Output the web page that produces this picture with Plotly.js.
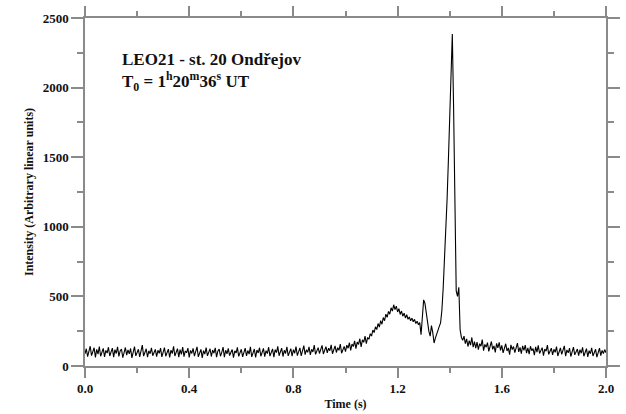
<!DOCTYPE html>
<html>
<head>
<meta charset="utf-8">
<script src="https://cdn.plot.ly/plotly-3.0.1.min.js"></script>
<style>
  html, body { margin: 0; padding: 0; background: #fff; }
  #chart { width: 626px; height: 414px; font-family: 'Liberation Serif', serif; }
</style>
</head>
<body>
<div id="chart"></div>
<script>
// Light curve sampling
const T_START = 0.0;
const T_STEP = 0.005;

// Intensity samples (arbitrary linear units), one per time step, 0.1 s per row
const intensity = [
  88,124,67,110,142,75,98,131,62,119,85,140,70,104,127,66,112,93,135,72,
  101,128,64,117,90,138,69,108,122,60,96,133,78,115,87,126,58,104,140,73,
  95,120,66,111,150,71,99,124,63,109,88,131,74,102,119,68,113,91,128,65,
  106,132,70,97,121,61,114,89,142,72,100,125,64,118,84,136,67,108,95,129,
  62,112,90,127,71,104,138,66,96,119,58,110,86,133,73,101,124,68,115,92,
  130,64,107,121,70,98,136,63,113,88,127,75,102,118,60,109,93,134,69,105,
  120,66,97,129,72,111,86,137,65,103,122,61,115,94,131,70,99,126,67,110,
  89,135,71,106,123,64,117,96,141,74,100,128,68,113,90,138,73,108,125,70,
  118,92,140,75,111,130,72,105,146,82,116,98,137,79,120,101,150,84,113,132,
  90,125,148,86,118,139,95,128,110,152,88,122,145,97,131,113,158,92,127,141,
  104,150,128,167,112,158,140,180,125,172,155,196,138,188,170,214,160,205,192,232,
  215,258,240,282,262,305,280,326,300,348,325,372,350,392,372,418,395,440,405,430,
  388,412,370,395,358,380,345,368,336,352,325,344,318,335,305,322,296,312,225,360,
  475,450,380,300,250,215,290,240,165,200,235,260,285,310,400,560,760,980,1200,1480,
  1780,2080,2385,1850,1200,540,500,565,260,205,185,215,160,195,140,182,150,205,135,175,
  128,172,118,160,142,190,110,155,135,168,105,150,176,120,145,98,162,130,170,112,
  148,95,138,160,108,130,82,152,118,140,96,128,165,102,134,88,145,112,150,92,
  130,85,142,110,125,78,138,100,148,90,118,132,75,122,106,150,84,115,128,80,
  120,98,140,72,112,130,84,108,145,70,116,95,128,68,110,136,80,104,122,74,
  118,92,134,70,106,125,66,110,88,130,72,103,120,64,98,128,75,112,90,118,
  95
];

// Axis tick values and labels
const xTicks = [0.0, 0.4, 0.8, 1.2, 1.6, 2.0];
const xTickLabels = ['0.0', '0.4', '0.8', '1.2', '1.6', '2.0'];
const yTicks = [0, 500, 1000, 1500, 2000, 2500];
const yTickLabels = ['0', '500', '1000', '1500', '2000', '2500'];

const timeS = intensity.map((_, i) => +(T_START + i * T_STEP).toFixed(3));

const serif = 'Liberation Serif';
const axisGray = '#8a8a8a';

const trace = {
  x: timeS,
  y: intensity,
  type: 'scatter',
  mode: 'lines',
  line: { color: '#000', width: 1.1 },
  hoverinfo: 'skip'
};

const commonAxis = {
  showline: true,
  linecolor: axisGray,
  linewidth: 1.5,
  mirror: 'allticks',
  ticks: 'outside',
  tickcolor: axisGray,
  tickwidth: 1.5,
  ticklen: 12,
  showgrid: false,
  zeroline: false,
  tickmode: 'array',
  tickfont: { family: serif, size: 13, color: '#111', weight: 'bold' }
};

const layout = {
  width: 626,
  height: 414,
  margin: { l: 85, r: 20, t: 18, b: 48 },
  paper_bgcolor: '#fff',
  plot_bgcolor: '#fff',
  showlegend: false,
  font: { family: serif, color: '#111' },
  xaxis: Object.assign({}, commonAxis, {
    range: [0, 2.0],
    tickvals: xTicks,
    ticktext: xTickLabels,
    ticklen: 10,
    minor: { dtick: 0.2, ticks: 'outside', ticklen: 5, tickcolor: axisGray, tickwidth: 1.5, showgrid: false },
    title: { text: 'Time (s)', font: { family: serif, size: 12, color: '#111', weight: 'bold' }, standoff: 4 }
  }),
  yaxis: Object.assign({}, commonAxis, {
    range: [0, 2500],
    tickvals: yTicks,
    ticktext: yTickLabels,
    minor: { dtick: 250, ticks: 'outside', ticklen: 6, tickcolor: axisGray, tickwidth: 1.5, showgrid: false },
    title: { text: 'Intensity (Arbitrary linear units)', font: { family: serif, size: 12, color: '#111', weight: 'bold' }, standoff: 6 }
  }),
  annotations: [{
    xref: 'paper', yref: 'paper',
    x: 0.067, y: 0.915,
    xanchor: 'left', yanchor: 'top',
    align: 'left',
    showarrow: false,
    text: 'LEO21 - st. 20 Ondřejov<br>T<sub>0</sub> = 1<sup>h</sup>20<sup>m</sup>36<sup>s</sup> UT',
    font: { family: serif, size: 17, color: '#111', weight: 'bold' }
  }]
};

function draw() {
  Plotly.newPlot('chart', [trace], layout, { displayModeBar: false });
}

// Make sure the serif face is ready before the text is measured
if (document.fonts && document.fonts.load) {
  Promise.all([
    document.fonts.load('bold 16px "Liberation Serif"'),
    document.fonts.load('16px "Liberation Serif"')
  ]).then(draw, draw);
} else {
  draw();
}
</script>
</body>
</html>
